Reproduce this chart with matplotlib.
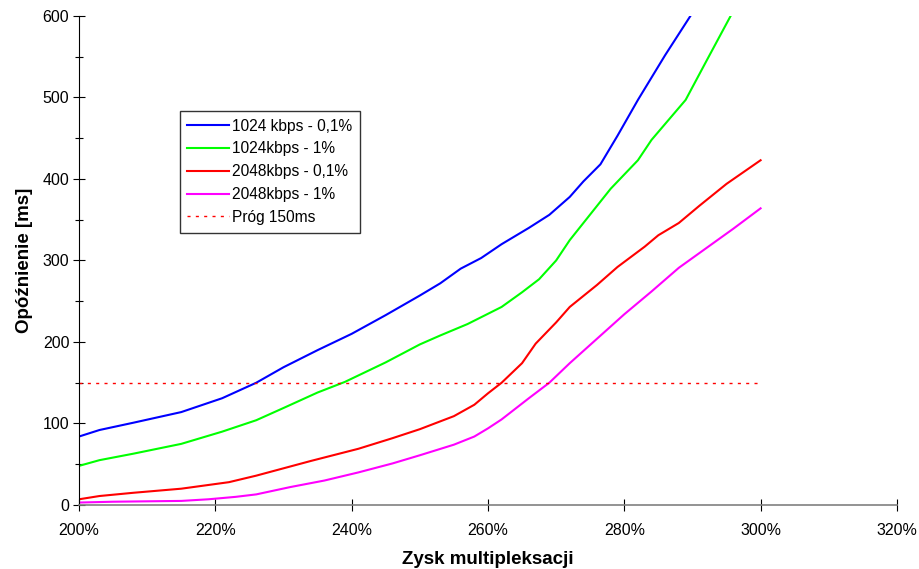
import matplotlib
matplotlib.use("Agg")
import matplotlib.pyplot as plt
from matplotlib.ticker import MultipleLocator, FuncFormatter

plt.rcParams["font.family"] = ["Liberation Sans", "DejaVu Sans"]

# zysk multipleksacji [%] / opoznienie [ms]
x_1024_01 = [200, 203, 208, 215, 221, 226, 230, 235, 240, 245, 250, 253, 256, 259, 262, 266, 269, 272, 274, 276.5, 279, 282, 286, 289.7]
y_1024_01 = [84, 92, 101, 114, 131, 150, 169, 190, 210, 233, 257, 272, 290, 303, 320, 340, 356, 378, 397, 418, 453, 497, 552, 600]

x_1024_1 = [200, 203, 208, 215, 221, 226, 230, 235, 239, 245, 250, 253, 257, 262, 265, 267.5, 270, 272, 274, 278, 282, 284, 289, 292, 295.6]
y_1024_1 = [48, 55, 63, 75, 90, 104, 119, 138, 151, 175, 197, 208, 222, 243, 261, 277, 300, 325, 346, 388, 423, 448, 497, 544, 600]

x_2048_01 = [200, 203, 208, 215, 222, 226, 234, 241, 246, 250, 255, 258, 260, 262, 265, 267, 270, 272, 276, 279, 283, 285, 288, 291, 295, 300]
y_2048_01 = [7, 11, 15, 20, 28, 36, 54, 69, 82, 93, 109, 123, 137, 150, 174, 198, 224, 243, 270, 292, 317, 331, 346, 367, 394, 423]

x_2048_1 = [200, 205, 215, 219, 223, 226, 231, 236, 241, 246, 250, 255, 258, 260, 262, 264, 266, 269, 272, 276, 280, 284, 288, 292, 296, 300]
y_2048_1 = [3, 4, 5, 7, 10, 13, 22, 30, 40, 51, 61, 74, 84, 94, 105, 118, 131, 150, 174, 204, 234, 262, 291, 315, 339, 364]

x_prog = [200, 300]
y_prog = [150, 150]

labels = ["1024 kbps - 0,1%", "1024kbps - 1%", "2048kbps - 0,1%", "2048kbps - 1%", "Próg 150ms"]

fig = plt.figure(figsize=(9.2, 5.69), dpi=100)
ax = fig.add_axes([0.0859, 0.1125, 0.889, 0.8594])

lw = 1.5
ax.plot(x_1024_01, y_1024_01, color="#0000ff", lw=lw, label=labels[0])
ax.plot(x_1024_1, y_1024_1, color="#00ff00", lw=lw, label=labels[1])
ax.plot(x_2048_01, y_2048_01, color="#ff0000", lw=lw, label=labels[2])
ax.plot(x_2048_1, y_2048_1, color="#ff00ff", lw=lw, label=labels[3])
ax.plot(x_prog, y_prog, color="#ff0000", lw=1.0, ls=(0, (2.2, 3.8)), label=labels[4])

ax.set_xlim(200, 320)
ax.set_ylim(0, 600)
ax.xaxis.set_major_locator(MultipleLocator(20))
ax.xaxis.set_major_formatter(FuncFormatter(lambda v, p: "%d%%" % v))
ax.yaxis.set_major_locator(MultipleLocator(100))
ax.yaxis.set_minor_locator(MultipleLocator(50))

for s in ["top", "right"]:
    ax.spines[s].set_visible(False)
ax.spines["left"].set_color("black")
ax.spines["bottom"].set_color("#808080")
ax.spines["bottom"].set_linewidth(1.2)

ax.tick_params(axis="both", which="both", direction="inout", length=8, width=0.8,
               labelsize=11.5, colors="black")
ax.tick_params(axis="x", pad=9)
ax.tick_params(axis="y", pad=3)
ax.tick_params(axis="y", which="minor", length=6)

ax.set_xlabel("Zysk multipleksacji", fontsize=13.5, fontweight="bold", labelpad=9)
ax.set_ylabel("Opóźnienie [ms]", fontsize=13.5, fontweight="bold", labelpad=7)

leg = ax.legend(loc="upper left", bbox_to_anchor=(0.123, 0.806), fontsize=11.2,
                frameon=True, fancybox=False, edgecolor="black", handlelength=2.7,
                handletextpad=0.15, borderpad=0.5, labelspacing=0.5, borderaxespad=0)
leg.get_frame().set_linewidth(1.0)

fig.savefig("out.png", dpi=100)
